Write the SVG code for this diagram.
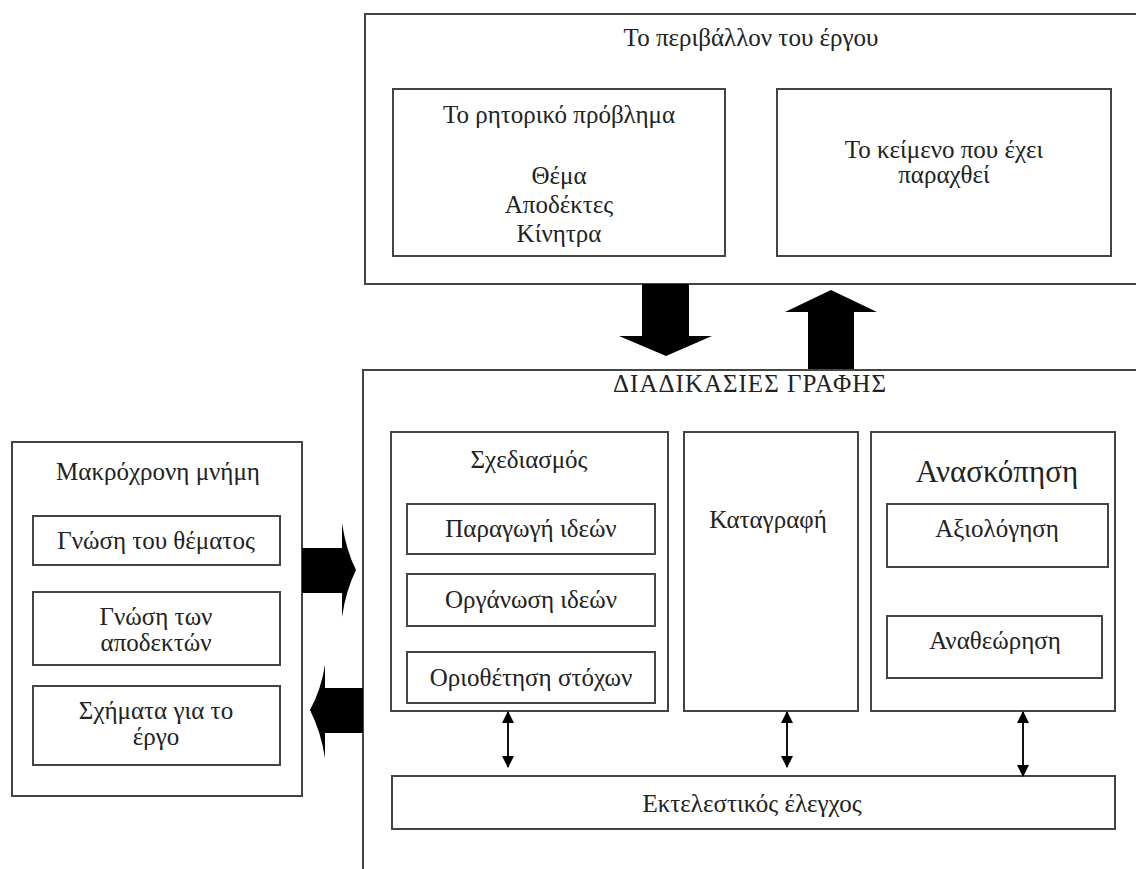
<svg xmlns="http://www.w3.org/2000/svg" width="1136" height="869" viewBox="0 0 1136 869">
<style>
.box{fill:#fff;stroke:#444;stroke-width:2}
.t{font-family:"Liberation Serif","Times New Roman",serif;font-size:25px;fill:#222;text-anchor:middle}
.big{font-size:31px}
.caps{letter-spacing:1px}
.blk{fill:#000}
.con{stroke:#111;stroke-width:2;fill:none}
</style>
<defs>
<marker id="ah" viewBox="0 0 12 12" refX="11" refY="6" markerWidth="12" markerHeight="12" markerUnits="userSpaceOnUse" orient="auto-start-reverse">
<path d="M0,0 L12,6 L0,12 Z" fill="#000"/>
</marker>
</defs>
<rect width="1136" height="869" fill="#fff"/>

<g id="environment">
<rect class="box" x="365" y="14" width="790" height="270"/>
<text class="t" x="751" y="46">Το περιβάλλον του έργου</text>
</g>
<g id="rhetorical-problem">
<rect class="box" x="393" y="89" width="332" height="167"/>
<text class="t" x="559" y="123">Το ρητορικό πρόβλημα</text>
<text class="t" x="559" y="184">Θέμα</text>
<text class="t" x="559" y="213">Αποδέκτες</text>
<text class="t" x="559" y="242">Κίνητρα</text>
</g>
<g id="produced-text">
<rect class="box" x="777" y="89" width="334" height="167"/>
<text class="t" x="944" y="158">Το κείμενο που έχει</text>
<text class="t" x="944" y="183">παραχθεί</text>
</g>

<g id="writing-processes">
<rect class="box" x="363" y="370" width="800" height="520"/>
<text class="t caps" x="750" y="392">ΔΙΑΔΙΚΑΣΙΕΣ  ΓΡΑΦΗΣ</text>
</g>
<g id="planning">
<rect class="box" x="391" y="432" width="277" height="279"/>
<text class="t" x="529" y="468">Σχεδιασμός</text>
</g>
<g id="generating">
<rect class="box" x="407" y="504" width="248" height="50"/>
<text class="t" x="531" y="537">Παραγωγή ιδεών</text>
</g>
<g id="organizing">
<rect class="box" x="407" y="574" width="248" height="52"/>
<text class="t" x="531" y="608">Οργάνωση ιδεών</text>
</g>
<g id="goal-setting">
<rect class="box" x="407" y="652" width="248" height="51"/>
<text class="t" x="531" y="686">Οριοθέτηση στόχων</text>
</g>
<g id="translating">
<rect class="box" x="684" y="432" width="174" height="279"/>
<text class="t" x="768" y="528">Καταγραφή</text>
</g>
<g id="reviewing">
<rect class="box" x="871" y="432" width="244" height="279"/>
<text class="t big" x="997" y="482">Ανασκόπηση</text>
</g>
<g id="evaluating">
<rect class="box" x="887" y="504" width="221" height="63"/>
<text class="t" x="997" y="537">Αξιολόγηση</text>
</g>
<g id="revising">
<rect class="box" x="887" y="616" width="215" height="62"/>
<text class="t" x="995" y="649">Αναθεώρηση</text>
</g>
<g id="monitor">
<rect class="box" x="392" y="776" width="723" height="53"/>
<text class="t" x="752" y="812">Εκτελεστικός έλεγχος</text>
</g>

<g id="long-term-memory">
<rect class="box" x="12" y="442" width="290" height="354"/>
<text class="t" x="158" y="480">Μακρόχρονη μνήμη</text>
</g>
<g id="topic-knowledge">
<rect class="box" x="33" y="516" width="247" height="49"/>
<text class="t" x="156" y="549">Γνώση του θέματος</text>
</g>
<g id="audience-knowledge">
<rect class="box" x="33" y="592" width="247" height="73"/>
<text class="t" x="156" y="625">Γνώση των</text>
<text class="t" x="156" y="651">αποδεκτών</text>
</g>
<g id="plans">
<rect class="box" x="33" y="686" width="247" height="79"/>
<text class="t" x="156" y="719">Σχήματα για το</text>
<text class="t" x="156" y="745">έργο</text>
</g>

<g id="connectors">
<polygon class="blk" points="642,284 689,284 689,336 712,336 666,356 619,336 642,336"/>
<polygon class="blk" points="808,369 854,369 854,312 877,312 831,290 785,312 808,312"/>
<path class="blk" d="M302,548 L342,548 L342,523 Q346,550 356,570 Q346,590 342,617 L342,593 L302,593 Z"/>
<path class="blk" d="M363,688 L325,688 L325,665 Q321,690 310,710 Q321,732 325,758 L325,733 L363,733 Z"/>
<line class="con" x1="508" y1="712" x2="508" y2="767" marker-start="url(#ah)" marker-end="url(#ah)"/>
<line class="con" x1="787" y1="712" x2="787" y2="767" marker-start="url(#ah)" marker-end="url(#ah)"/>
<line class="con" x1="1023" y1="712" x2="1023" y2="776" marker-start="url(#ah)" marker-end="url(#ah)"/>
</g>
</svg>
